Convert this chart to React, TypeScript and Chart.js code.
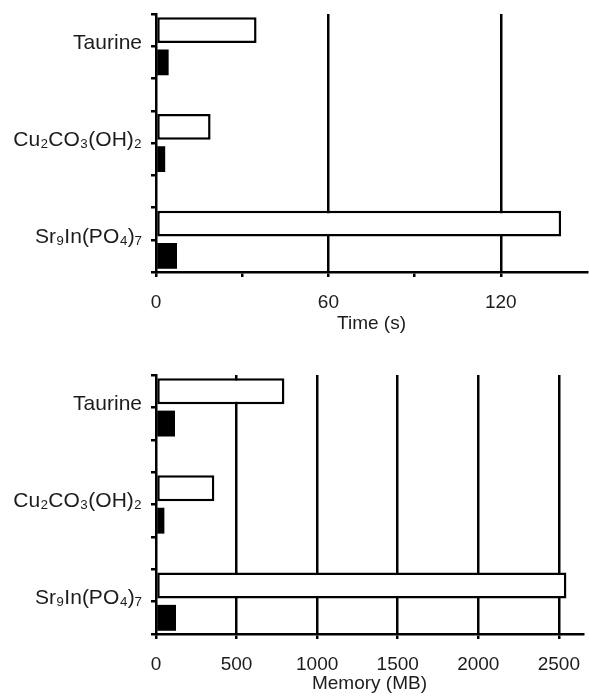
import React, { useEffect, useRef } from 'react';
import { Chart, registerables } from 'chart.js';

Chart.register(...registerables);

// ---- data ----
const categories = ['Taurine', 'Cu₂CO₃(OH)₂', 'Sr₉In(PO₄)₇'];
const timeLight = [35, 19, 141];
const timeDark = [4.4, 3.2, 7.3];
const memLight = [797, 362, 2547];
const memDark = [118, 52, 124];
const timeTickLabels = [0, 60, 120];
const memTickLabels = [0, 500, 1000, 1500, 2000, 2500];

const FONT = "'Liberation Sans', Arial, Helvetica, sans-serif";
const INK = '#000000';
const TEXT = '#1c1c1c';

// category slot positions on a linear index axis (each slot spans 3 units)
const slotPos = categories.map((_, i) => 1 + 3 * i);

type PanelOpts = {
  light: number[];
  dark: number[];
  xMax: number;
  step: number;
  labels: number[];
  title: string;
  height: number;
  padTop: number;
  padRight: number;
  xAxisHeight: number;
};

function buildConfig(o: PanelOpts): any {
  const labelMap: Record<number, string> = {};
  slotPos.forEach((p, i) => (labelMap[p] = categories[i]));
  const xTickValues: number[] = [];
  for (let v = 0; v < o.xMax; v += o.step) xTickValues.push(v);
  return {
    type: 'bar',
    data: {
      datasets: [
        {
          label: 'A',
          data: o.light.map((v, i) => ({ x: v, y: slotPos[i] })),
          backgroundColor: '#ffffff',
          borderColor: INK,
          borderWidth: 2.5,
          borderSkipped: false,
        },
        {
          label: 'B',
          data: o.dark.map((v, i) => ({ x: v, y: slotPos[i] })),
          backgroundColor: INK,
          borderColor: INK,
          borderWidth: 0,
        },
      ],
    },
    options: {
      indexAxis: 'y',
      responsive: false,
      animation: false,
      devicePixelRatio: 1,
      categoryPercentage: 2,
      barPercentage: 0.8,
      layout: { padding: { top: o.padTop, right: o.padRight, left: 0, bottom: 0 } },
      plugins: { legend: { display: false }, tooltip: { enabled: false } },
      scales: {
        y: {
          type: 'linear',
          reverse: true,
          offset: false,
          min: 0,
          max: 3 * categories.length - 1,
          afterFit: (s: any) => {
            s.width = 156;
            s.paddingTop = 0;
            s.paddingBottom = 0;
          },
          ticks: {
            stepSize: 1,
            autoSkip: false,
            padding: 9,
            labelOffset: -3,
            color: TEXT,
            font: { family: FONT, size: 21 },
            callback: (v: any) => labelMap[v] ?? '',
          },
          grid: {
            offset: false,
            drawOnChartArea: false,
            color: INK,
            lineWidth: 2.5,
            tickLength: 5,
          },
          border: { display: true, color: INK, width: 2.5 },
        },
        x: {
          type: 'linear',
          min: 0,
          max: o.xMax,
          offset: false,
          afterBuildTicks: (s: any) => {
            s.ticks = xTickValues.map((v) => ({ value: v }));
          },
          afterFit: (s: any) => {
            s.height = o.xAxisHeight;
            s.paddingLeft = 0;
            s.paddingRight = 0;
          },
          ticks: {
            autoSkip: false,
            maxRotation: 0,
            padding: 14,
            color: TEXT,
            font: { family: FONT, size: 19 },
            callback: (v: any) => (o.labels.includes(v) ? String(v) : ''),
          },
          grid: {
            offset: false,
            drawOnChartArea: true,
            lineWidth: 2.5,
            tickLength: 5,
            color: (ctx: any) =>
              ctx.tick && o.labels.includes(ctx.tick.value) && ctx.tick.value > 0 ? INK : 'rgba(0,0,0,0)',
            tickColor: INK,
          },
          border: { display: true, color: INK, width: 2.5 },
          title: {
            display: true,
            text: o.title,
            color: TEXT,
            font: { family: FONT, size: 19 },
            padding: { top: 0, bottom: 5 },
          },
        },
      },
    },
  };
}

function Panel({ opts }: { opts: PanelOpts }) {
  const ref = useRef<HTMLCanvasElement>(null);
  useEffect(() => {
    const chart = new Chart(ref.current as HTMLCanvasElement, buildConfig(opts));
    return () => chart.destroy();
  }, []);
  return (
    <canvas
      ref={ref}
      width={589}
      height={opts.height}
      style={{ display: 'block', width: 589, height: opts.height }}
    />
  );
}

export default function App() {
  const top: PanelOpts = {
    light: timeLight,
    dark: timeDark,
    xMax: 150,
    step: 30,
    labels: timeTickLabels,
    title: 'Time (s)',
    height: 340,
    padTop: 14,
    padRight: 2,
    xAxisHeight: 68,
  };
  const bottom: PanelOpts = {
    light: memLight,
    dark: memDark,
    xMax: 2650,
    step: 500,
    labels: memTickLabels,
    title: 'Memory (MB)',
    height: 360,
    padTop: 35,
    padRight: 6,
    xAxisHeight: 66,
  };
  return (
    <div style={{ position: 'absolute', left: 0, top: 0, width: 589, height: 700, background: '#fff' }}>
      <Panel opts={top} />
      <Panel opts={bottom} />
    </div>
  );
}
